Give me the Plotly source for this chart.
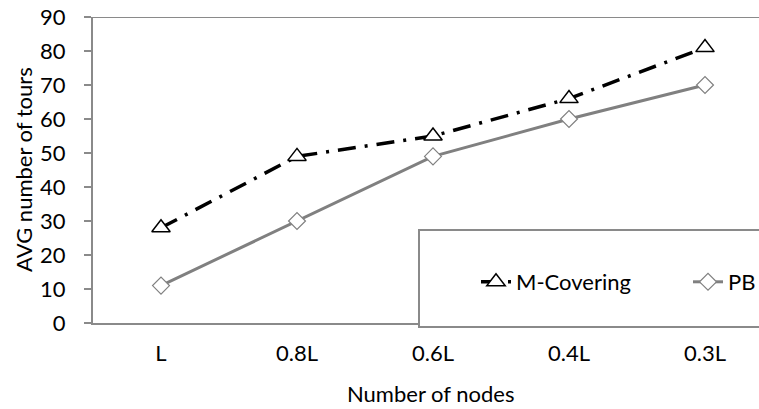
import plotly.graph_objects as go

categories = ["L", "0.8L", "0.6L", "0.4L", "0.3L"]
m_covering = [28, 49, 55, 66, 81]
pb = [11, 30, 49, 60, 70]
y_ticks = [0, 10, 20, 30, 40, 50, 60, 70, 80, 90]

W, H = 759, 409
L, T, B = 93, 17, 86
plot_w = W - L
plot_h = H - T - B
cat_px = 136.0
x_max = -0.5 + plot_w / cat_px

grey = "#8a8a8a"
font = dict(family="Lato, 'Open Sans', sans-serif", size=22, color="#000000")

fig = go.Figure()
fig.add_trace(go.Scatter(
    x=categories, y=m_covering, name="M-Covering", mode="lines+markers",
    line=dict(color="#000000", width=3.5, dash="18px,9px,3px,9px"),
    marker=dict(symbol="triangle-up", size=16, color="white",
                line=dict(color="#000000", width=1.5)),
))
fig.add_trace(go.Scatter(
    x=categories, y=pb, name="PB", mode="lines+markers",
    line=dict(color="#808080", width=3),
    marker=dict(symbol="diamond", size=13, color="white",
                line=dict(color="#808080", width=1.2)),
))

# legend box
fig.add_shape(type="rect", xref="paper", yref="paper",
              x0=(419 - L) / plot_w, x1=1.05,
              y0=(323 - 327) / plot_h, y1=(323 - 230) / plot_h,
              fillcolor="white", line=dict(color=grey, width=2), layer="above")
# top line at 90
fig.add_shape(type="line", xref="paper", yref="y",
              x0=-7 / plot_w, x1=1.0, y0=90, y1=90,
              line=dict(color=grey, width=2), layer="below")

# axis titles as annotations
fig.add_annotation(text="Number of nodes", xref="paper", yref="paper",
                   x=(430 - L) / plot_w, y=-(393 - 323) / plot_h,
                   xanchor="center", yanchor="middle", showarrow=False, font=font)
fig.add_annotation(text="AVG number of tours", xref="paper", yref="paper",
                   x=-(L - 23) / plot_w, y=(323 - 170) / plot_h, textangle=-90,
                   xanchor="center", yanchor="middle", showarrow=False, font=font)

fig.update_layout(
    width=W, height=H,
    margin=dict(l=L, r=0, t=T, b=B, pad=0, autoexpand=False),
    paper_bgcolor="white", plot_bgcolor="white",
    font=font,
    showlegend=True,
    legend=dict(orientation="h", xref="container", yref="container",
                x=476 / W, xanchor="left",
                y=(H - 282) / H, yanchor="middle",
                bgcolor="rgba(0,0,0,0)", font=font, itemwidth=30,
                entrywidth=167, entrywidthmode="pixels"),
    xaxis=dict(type="category", categoryorder="array", categoryarray=categories,
               range=[-0.5, x_max], showgrid=False, zeroline=False,
               showline=True, linecolor=grey, linewidth=2,
               ticks="outside", ticklen=10, tickcolor="rgba(0,0,0,0)",
               tickfont=font, automargin=False),
    yaxis=dict(range=[0, 90], tickvals=y_ticks, showgrid=False, zeroline=False,
               showline=True, linecolor=grey, linewidth=2,
               ticks="outside", ticklen=21, tickcolor="rgba(0,0,0,0)",
               minor=dict(tickvals=y_ticks, ticks="outside", ticklen=7,
                          tickcolor=grey, tickwidth=1.5, showgrid=False),
               tickfont=font, automargin=False),
)

fig.write_html("out.html")
